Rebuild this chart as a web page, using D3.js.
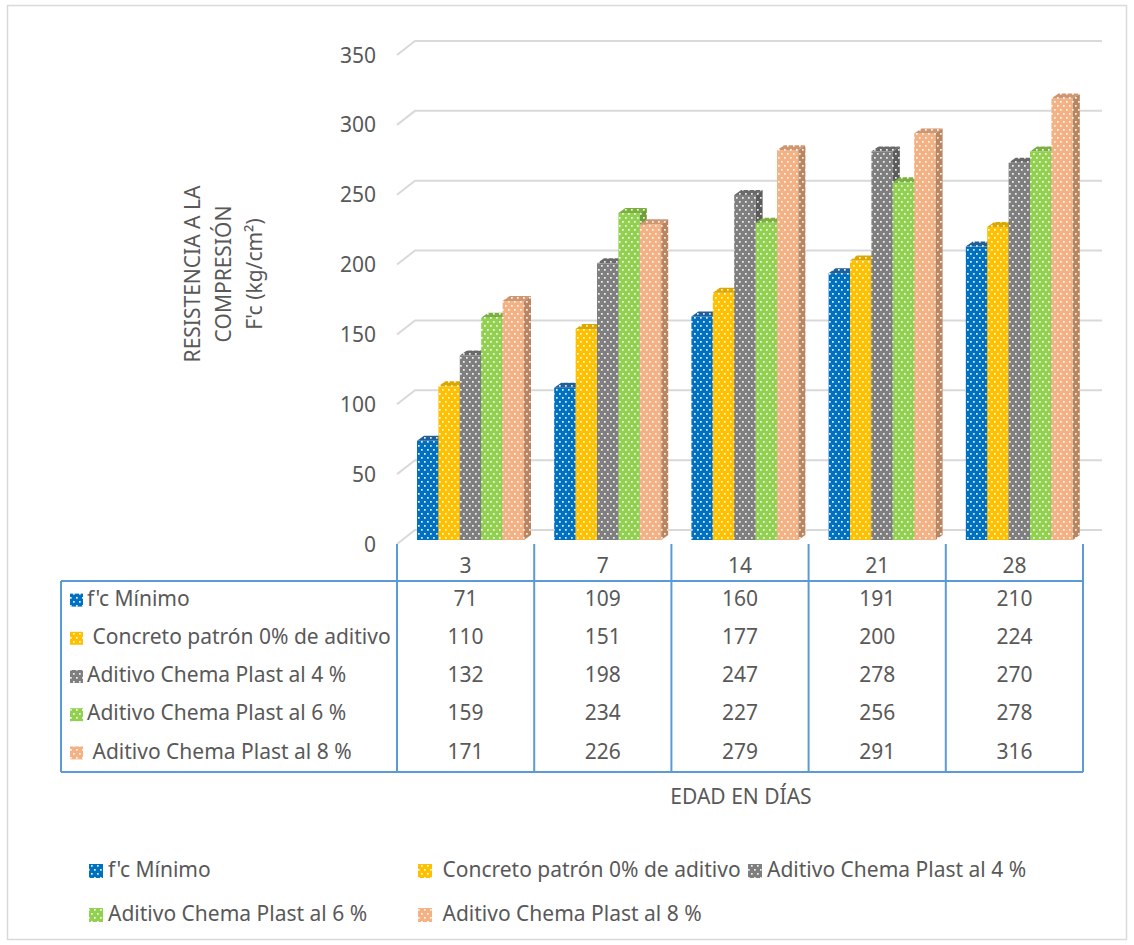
<!DOCTYPE html>
<html><head><meta charset="utf-8">
<script src="https://cdn.jsdelivr.net/npm/d3@7"></script>
<style>
body{margin:0;background:#fff;}
svg text{font-family:"Noto Sans",sans-serif;fill:#595959;white-space:pre;}
</style></head>
<body><svg id="c" width="1134" height="945"></svg>
<script>
const categories = ["3","7","14","21","28"];
const seriesNames = ["f'c Mínimo"," Concreto patrón 0% de aditivo","Aditivo Chema Plast al 4 %","Aditivo Chema Plast al 6 %"," Aditivo Chema Plast al 8 %"];
const fcMinimo  = [71,109,160,191,210];
const patron0   = [110,151,177,200,224];
const chema4    = [132,198,247,278,270];
const chema6    = [159,234,227,256,278];
const chema8    = [171,226,279,291,316];
const yTicks = [0,50,100,150,200,250,300,350];
const seriesValues = [fcMinimo, patron0, chema4, chema6, chema8];

const colors = [
  {front:"#0070C0", top:"#1f5f9a", side:"#0b4f85"},
  {front:"#FFC000", top:"#dca800", side:"#c99a00"},
  {front:"#7F7F7F", top:"#6a6a6a", side:"#5c5c5c"},
  {front:"#92D050", top:"#79b03e", side:"#6d9e38"},
  {front:"#F4B183", top:"#d09670", side:"#b98662"}
];
const FS = 21;

const svg = d3.select("#c");
svg.append("rect").attr("x",7.5).attr("y",5.5).attr("width",1119).attr("height",934)
  .attr("fill","#fff").attr("stroke","#d9d9d9").attr("stroke-width",1.5);

// patterns
const defs = svg.append("defs");
function mkPattern(id, bg){
  const p = defs.append("pattern").attr("id",id).attr("patternUnits","userSpaceOnUse")
    .attr("width",6).attr("height",8);
  p.append("rect").attr("width",6).attr("height",8).attr("fill",bg);
  p.append("rect").attr("x",1).attr("y",1).attr("width",1.7).attr("height",1.7).attr("fill","#fff").attr("opacity",0.9);
  p.append("rect").attr("x",4).attr("y",5).attr("width",1.7).attr("height",1.7).attr("fill","#fff").attr("opacity",0.9);
}
colors.forEach((c,i)=>{
  mkPattern("pf"+i,c.front); mkPattern("pt"+i,c.top); mkPattern("ps"+i,c.side);
});

// scales
const x0 = d3.scaleBand().domain(categories).range([397,1083]);
const x1 = d3.scaleBand().domain(d3.range(seriesNames.length)).range([20,127]);
const yBack = d3.scaleLinear().domain([0,350]).range([530,41]);
const yBar = d3.scaleLinear().domain([0,350]).range([540,51]);
const ddx = 7, ddy = 5;

// gridlines on back wall with diagonal floor/wall edge
const grid = svg.append("g");
yTicks.forEach(t=>{
  const yb = yBack(t);
  grid.append("path")
    .attr("d",`M397,${yb+14} L415,${yb} L1102,${yb}`)
    .attr("fill","none").attr("stroke","#d9d9d9").attr("stroke-width",2);
});
// y axis labels
svg.append("g").selectAll("text").data(yTicks).join("text")
  .attr("x",376).attr("y",d=>yBack(d)+16).attr("text-anchor","end")
  .attr("dominant-baseline","middle").attr("font-size",FS).text(d=>d);

// bars
const bars = svg.append("g");
categories.forEach((cat,ci)=>{
  seriesValues.forEach((vals,si)=>{
    const v = vals[ci];
    const xl = x0(cat)+x1(si), w = x1.bandwidth();
    const yt = yBar(v), yb = yBar(0);
    bars.append("rect").attr("x",xl).attr("y",yt).attr("width",w).attr("height",yb-yt)
      .attr("fill",`url(#pf${si})`);
    bars.append("path").attr("d",`M${xl},${yt} L${xl+w},${yt} L${xl+w+ddx},${yt-ddy} L${xl+ddx},${yt-ddy} Z`)
      .attr("fill",`url(#pt${si})`);
    bars.append("path").attr("d",`M${xl+w},${yt} L${xl+w+ddx},${yt-ddy} L${xl+w+ddx},${yb-ddy} L${xl+w},${yb} Z`)
      .attr("fill",`url(#ps${si})`);
  });
});

// data table
const tblTop = 581, rowH = 38.2, tblLeft = 61, tblRight = 1083, floorY = 544;
const tb = svg.append("g");
const lineC = "#5B9BD5";
const colEdges = categories.map(c=>x0(c)).concat([x0.range()[1]]);
colEdges.forEach(xe=>{
  tb.append("line").attr("x1",xe).attr("x2",xe).attr("y1",floorY).attr("y2",tblTop+rowH*5)
    .attr("stroke",lineC).attr("stroke-width",2);
});
tb.append("line").attr("x1",tblLeft).attr("x2",tblRight).attr("y1",tblTop).attr("y2",tblTop)
  .attr("stroke",lineC).attr("stroke-width",2);
tb.append("line").attr("x1",tblLeft).attr("x2",tblRight).attr("y1",tblTop+rowH*5).attr("y2",tblTop+rowH*5)
  .attr("stroke",lineC).attr("stroke-width",2);
tb.append("line").attr("x1",tblLeft).attr("x2",tblLeft).attr("y1",tblTop).attr("y2",tblTop+rowH*5)
  .attr("stroke",lineC).attr("stroke-width",2);
// header
categories.forEach(c=>{
  tb.append("text").attr("x",x0(c)+x0.bandwidth()/2).attr("y",567).attr("text-anchor","middle")
    .attr("dominant-baseline","middle").attr("font-size",FS).text(c);
});
seriesNames.forEach((n,si)=>{
  const cy = tblTop + rowH*si + rowH/2;
  tb.append("rect").attr("x",70).attr("y",cy-6.5).attr("width",13).attr("height",13).attr("fill",`url(#pf${si})`);
  tb.append("text").attr("x",87).attr("y",cy).attr("dominant-baseline","middle").attr("font-size",FS).text(n);
  categories.forEach((c,ci)=>{
    tb.append("text").attr("x",x0(c)+x0.bandwidth()/2).attr("y",cy).attr("text-anchor","middle")
      .attr("dominant-baseline","middle").attr("font-size",FS).text(seriesValues[si][ci]);
  });
});

// axis titles
svg.append("text").attr("x",741).attr("y",798).attr("text-anchor","middle")
  .attr("dominant-baseline","middle").attr("font-size",FS).text("EDAD EN DÍAS");
const yt = svg.append("text").attr("transform","translate(225,274) rotate(-90)")
  .attr("text-anchor","middle").attr("font-size",FS);
["RESISTENCIA A LA","COMPRESIÓN","F'c (kg/cm²)"].forEach((t,i)=>{
  yt.append("tspan").attr("x",0).attr("y",(i-1)*31).attr("dominant-baseline","middle").text(t);
});

// legend
const legPos = [[89,871],[418,871],[748,871],[89,915],[418,915]];
const lg = svg.append("g");
seriesNames.forEach((n,si)=>{
  const [lx,ly] = legPos[si];
  lg.append("rect").attr("x",lx).attr("y",ly-7).attr("width",14).attr("height",14).attr("fill",`url(#pf${si})`);
  lg.append("text").attr("x",lx+19).attr("y",ly).attr("dominant-baseline","middle").attr("font-size",FS).text(n);
});
</script></body></html>
